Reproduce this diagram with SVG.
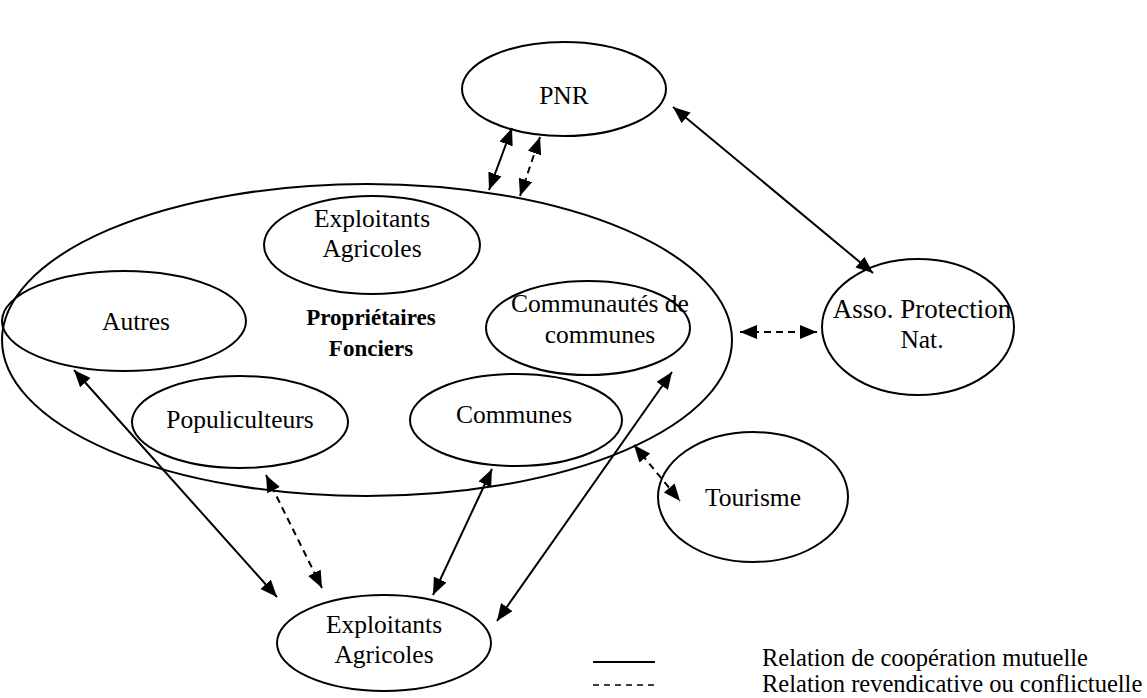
<svg xmlns="http://www.w3.org/2000/svg" width="1147" height="698" viewBox="0 0 1147 698">
<style>
.n{fill:none;stroke:#000;stroke-width:2}
.t{font-family:"Liberation Serif","Times New Roman",serif;font-size:25.5px;text-anchor:middle;fill:#000}
.b{font-weight:bold}
.s{stroke:#000;stroke-width:2;fill:none;marker-start:url(#a);marker-end:url(#a)}
.d{stroke-dasharray:7,5}
.l{font-family:"Liberation Serif","Times New Roman",serif;font-size:24.5px;fill:#000}
</style>
<defs>
<marker id="a" viewBox="0 0 17 14" refX="17" refY="7" markerWidth="17" markerHeight="14" markerUnits="userSpaceOnUse" orient="auto-start-reverse">
<path d="M0,0L17,7L0,14z" fill="#000"/>
</marker>
</defs>
<g id="proprietaires">
<ellipse class="n" cx="367" cy="340" rx="365" ry="156"/>
<text class="t b" x="371" y="325" style="font-size:23px">Propriétaires</text>
<text class="t b" x="371" y="356" style="font-size:23px">Fonciers</text>
</g>
<g id="pnr">
<ellipse class="n" cx="564" cy="89" rx="102" ry="47"/>
<text class="t" x="564" y="104">PNR</text>
</g>
<g id="exploitants-top">
<ellipse class="n" cx="372" cy="245" rx="108" ry="49"/>
<text class="t" x="372" y="227">Exploitants</text>
<text class="t" x="372" y="257">Agricoles</text>
</g>
<g id="autres">
<ellipse class="n" cx="124" cy="321" rx="122" ry="50"/>
<text class="t" x="136" y="330">Autres</text>
</g>
<g id="communautes">
<ellipse class="n" cx="588" cy="328" rx="102" ry="47"/>
<text class="t" x="600" y="312">Communautés de</text>
<text class="t" x="600" y="343">communes</text>
</g>
<g id="populiculteurs">
<ellipse class="n" cx="240" cy="422" rx="108" ry="46"/>
<text class="t" x="240" y="428">Populiculteurs</text>
</g>
<g id="communes">
<ellipse class="n" cx="516" cy="420" rx="106" ry="46"/>
<text class="t" x="514" y="423">Communes</text>
</g>
<g id="asso">
<ellipse class="n" cx="918" cy="327" rx="96" ry="68"/>
<text class="t" x="922" y="318" style="font-size:27px">Asso. Protection</text>
<text class="t" x="922" y="348">Nat.</text>
</g>
<g id="tourisme">
<ellipse class="n" cx="753" cy="497" rx="95" ry="65"/>
<text class="t" x="753" y="506">Tourisme</text>
</g>
<g id="exploitants-bottom">
<ellipse class="n" cx="384" cy="643" rx="107" ry="48"/>
<text class="t" x="384" y="633">Exploitants</text>
<text class="t" x="384" y="663">Agricoles</text>
</g>
<g id="connectors">
<line class="s" x1="489" y1="190" x2="512" y2="128"/>
<line class="s d" x1="520" y1="196" x2="540" y2="137"/>
<line class="s" x1="673" y1="107" x2="873" y2="273"/>
<line class="s d" x1="740" y1="332" x2="817" y2="332"/>
<line class="s d" x1="634" y1="445" x2="680" y2="501"/>
<line class="s" x1="74" y1="370" x2="277" y2="597"/>
<line class="s d" x1="266" y1="475" x2="322" y2="588"/>
<line class="s" x1="492" y1="469" x2="433" y2="595"/>
<line class="s" x1="672" y1="372" x2="497" y2="621"/>
</g>
<g id="legend">
<line x1="593" y1="662" x2="655" y2="662" stroke="#000" stroke-width="2"/>
<line x1="593" y1="685" x2="655" y2="685" stroke="#000" stroke-width="1.5" stroke-dasharray="6,5"/>
<text class="l" x="762" y="666">Relation de coopération mutuelle</text>
<text class="l" x="762" y="692">Relation revendicative ou conflictuelle</text>
</g>
</svg>
